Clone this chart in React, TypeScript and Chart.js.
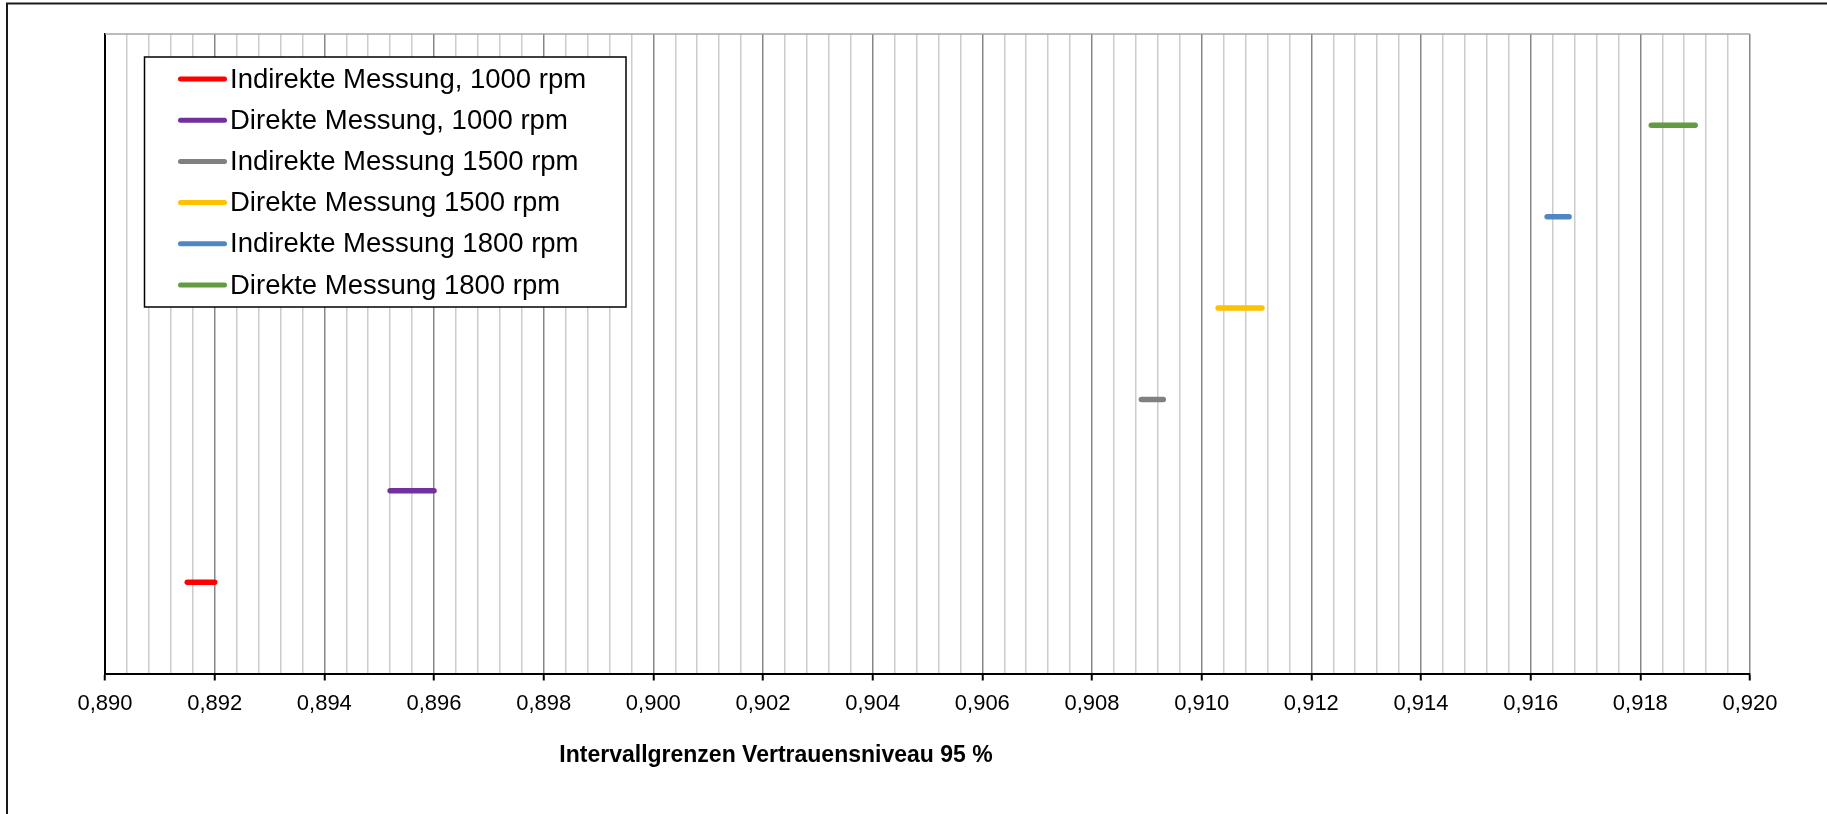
import React, { useEffect, useRef } from "react";
import { Chart, registerables } from "chart.js";

Chart.register(...registerables);

// ---- Data ----
const seriesLabels = [
  "Indirekte Messung, 1000 rpm",
  "Direkte Messung, 1000 rpm",
  "Indirekte Messung 1500 rpm",
  "Direkte Messung 1500 rpm",
  "Indirekte Messung 1800 rpm",
  "Direkte Messung 1800 rpm",
];
const lowerBounds = [0.8915, 0.8952, 0.9089, 0.9103, 0.9163, 0.9182];
const upperBounds = [0.892, 0.896, 0.9093, 0.9111, 0.9167, 0.919];
const rowLevels = [1, 2, 3, 4, 5, 6];
const seriesColors = ["#FF0000", "#7030A0", "#808080", "#FFC000", "#4F86C4", "#629B41"];

const xMin = 0.89;
const xMax = 0.92;
const minorStep = 0.0004;
const yMin = 0;
const yMax = 7;
const axisTitle = "Intervallgrenzen Vertrauensniveau 95 %";

const FONT = "'Liberation Sans', Arial, sans-serif";

const isMajor = (v: number) => Math.round(v * 10000) % 20 === 0;

const decorPlugin = {
  id: "decor",
  afterDatasetsDraw(chart: any) {
    const ctx = chart.ctx;
    const area = chart.chartArea;
    ctx.save();
    // top border of plot
    ctx.strokeStyle = "#a6a6a6";
    ctx.lineWidth = 1.5;
    ctx.beginPath();
    ctx.moveTo(area.left, area.top);
    ctx.lineTo(area.right, area.top);
    ctx.stroke();

    // legend box
    const bx = 144.5, by = 57, bw = 481.5, bh = 250;
    ctx.fillStyle = "#ffffff";
    ctx.fillRect(bx, by, bw, bh);
    ctx.strokeStyle = "#000000";
    ctx.lineWidth = 1.5;
    ctx.strokeRect(bx, by, bw, bh);
    ctx.font = `27.5px ${FONT}`;
    ctx.textBaseline = "middle";
    ctx.textAlign = "left";
    chart.data.datasets.forEach((ds: any, i: number) => {
      const y = 79 + i * 41.2;
      ctx.strokeStyle = ds.borderColor;
      ctx.lineWidth = 5;
      ctx.lineCap = "round";
      ctx.beginPath();
      ctx.moveTo(180.5, y);
      ctx.lineTo(224.5, y);
      ctx.stroke();
      ctx.fillStyle = "#000000";
      ctx.fillText(ds.label, 230, y + 1);
    });
    ctx.restore();
  },
  afterDraw(chart: any) {
    const ctx = chart.ctx;
    ctx.save();
    // outer frame (cropped right/bottom)
    ctx.strokeStyle = "#1a1a1a";
    ctx.lineWidth = 2;
    ctx.beginPath();
    ctx.moveTo(7, 830);
    ctx.lineTo(7, 3.5);
    ctx.lineTo(1840, 3.5);
    ctx.stroke();
    // axis title
    ctx.font = `bold 23px ${FONT}`;
    ctx.fillStyle = "#000000";
    ctx.textAlign = "center";
    ctx.textBaseline = "middle";
    ctx.fillText(axisTitle, 776, 756);
    ctx.restore();
  },
};

export default function App() {
  const ref = useRef<HTMLCanvasElement | null>(null);
  useEffect(() => {
    if (!ref.current) return;
    Chart.defaults.font.family = FONT;
    const datasets = seriesLabels.map((label, i) => ({
      label,
      data: [
        { x: lowerBounds[i], y: rowLevels[i] },
        { x: upperBounds[i], y: rowLevels[i] },
      ],
      borderColor: seriesColors[i],
      backgroundColor: seriesColors[i],
      borderWidth: 5.5,
      borderCapStyle: "round" as const,
      showLine: true,
      pointRadius: 0,
      pointHoverRadius: 0,
    }));
    const chart = new Chart(ref.current, {
      type: "scatter",
      data: { datasets },
      plugins: [decorPlugin],
      options: {
        animation: false,
        responsive: false,
        devicePixelRatio: 1,
        layout: { padding: { left: 0, top: 34, right: 77, bottom: 0 } },
        plugins: {
          legend: { display: false },
          tooltip: { enabled: false },
          title: { display: false },
        },
        scales: {
          x: {
            type: "linear",
            min: xMin,
            max: xMax,
            afterFit: (s: any) => {
              s.height = 140.5;
            },
            afterBuildTicks: (s: any) => {
              const n = Math.round((xMax - xMin) / minorStep);
              const t = [];
              for (let i = 0; i <= n; i++) {
                t.push({ value: Math.round((xMin + i * minorStep) * 10000) / 10000 });
              }
              s.ticks = t;
            },
            ticks: {
              autoSkip: false,
              maxRotation: 0,
              minRotation: 0,
              padding: 10,
              color: "#000000",
              font: { size: 22, family: FONT },
              callback: (v: any) => (isMajor(Number(v)) ? Number(v).toFixed(3).replace(".", ",") : ""),
            },
            grid: {
              color: (c: any) => (c.tick && isMajor(c.tick.value) ? "#878787" : "#cccccc"),
              lineWidth: 1.5,
              tickLength: 7,
              tickColor: (c: any) => (c.tick && isMajor(c.tick.value) ? "#000000" : "rgba(0,0,0,0)"),
              tickWidth: 2,
            },
            border: { display: true, color: "#000000", width: 2 },
          },
          y: {
            type: "linear",
            min: yMin,
            max: yMax,
            afterFit: (s: any) => {
              s.width = 105;
            },
            ticks: { display: false },
            grid: { display: false },
            border: { display: true, color: "#000000", width: 2 },
          },
        },
      },
    });
    return () => chart.destroy();
  }, []);
  return (
    <div style={{ position: "absolute", left: 0, top: 0, width: 1827, height: 814, background: "#fff" }}>
      <canvas ref={ref} width={1827} height={814} style={{ display: "block" }} />
    </div>
  );
}
